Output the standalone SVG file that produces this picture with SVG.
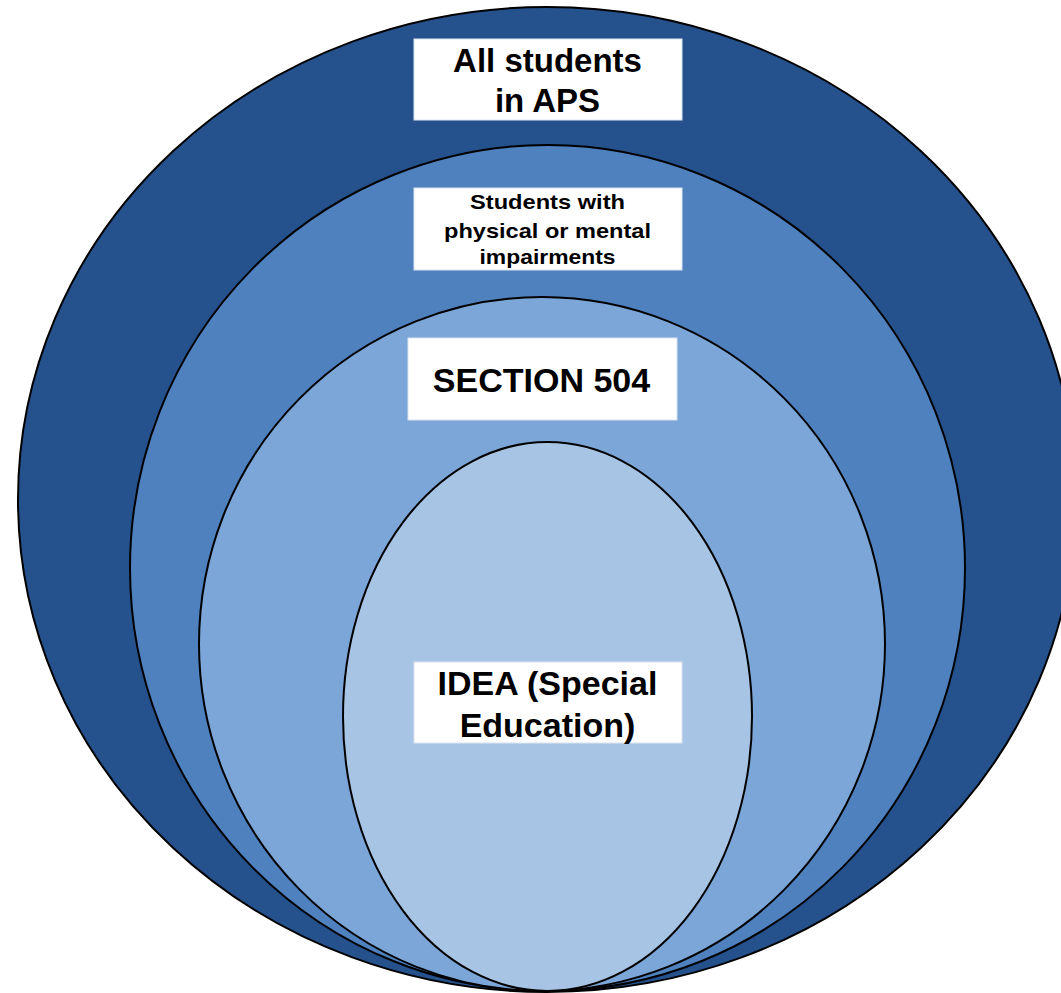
<svg xmlns="http://www.w3.org/2000/svg" width="1061" height="993" viewBox="0 0 1061 993">
  <style>
    .ring { stroke: #000000; stroke-width: 2; }
    .box { fill: #ffffff; stroke: #d9e3f0; stroke-width: 1; }
    .lbl { font-family: "Liberation Sans", Arial, sans-serif; font-weight: bold; fill: #000000; text-anchor: middle; }
  </style>
  <rect width="1061" height="993" fill="#ffffff"/>

  <!-- All students in APS -->
  <g id="all-students">
    <ellipse class="ring" cx="547" cy="499.5" rx="529" ry="492.5" fill="#25528D"/>
    <rect class="box" x="414" y="39" width="268" height="81"/>
    <text class="lbl" x="547.5" y="72" font-size="33">All students</text>
    <text class="lbl" x="547.5" y="112" font-size="33">in APS</text>
  </g>

  <!-- Students with physical or mental impairments -->
  <g id="impairments">
    <ellipse class="ring" cx="547.5" cy="568" rx="417.5" ry="423" fill="#4F81BF"/>
    <rect class="box" x="414" y="188" width="268" height="82"/>
    <text class="lbl" x="547.5" y="209" font-size="21" textLength="155" lengthAdjust="spacingAndGlyphs">Students with</text>
    <text class="lbl" x="547.5" y="238" font-size="21" textLength="207" lengthAdjust="spacingAndGlyphs">physical or mental</text>
    <text class="lbl" x="547.5" y="264" font-size="21" textLength="136" lengthAdjust="spacingAndGlyphs">impairments</text>
  </g>

  <!-- Section 504 -->
  <g id="section-504">
    <ellipse class="ring" cx="542" cy="644" rx="343" ry="347" fill="#7BA6D7"/>
    <rect class="box" x="408" y="338" width="269" height="82"/>
    <text class="lbl" x="541.5" y="392" font-size="34">SECTION 504</text>
  </g>

  <!-- IDEA (Special Education) -->
  <g id="idea">
    <ellipse class="ring" cx="547.5" cy="716.5" rx="204.5" ry="274.5" fill="#A8C4E4"/>
    <rect class="box" x="414" y="662" width="268" height="81"/>
    <text class="lbl" x="547.5" y="695" font-size="34">IDEA (Special</text>
    <text class="lbl" x="547.5" y="737" font-size="34">Education)</text>
  </g>

  <g id="connectors"/>
</svg>
